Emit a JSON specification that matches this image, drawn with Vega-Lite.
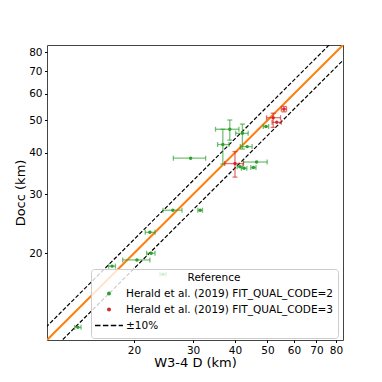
{
  "$schema": "https://vega.github.io/schema/vega-lite/v6.json",
  "width": 296,
  "height": 295,
  "autosize": {"type": "none"},
  "padding": {"left": 47, "top": 45, "right": 39, "bottom": 42},
  "background": "white",
  "config": {
    "font": "DejaVu Sans",
    "view": {"stroke": "#444444", "strokeWidth": 1},
    "axis": {"grid": false, "domain": false, "tickColor": "#000000", "tickSize": 2.5, "labelPadding": 2.5, "labelFontSize": 10.5, "labelColor": "#000000", "titleFontSize": 13, "titleFontWeight": "normal", "titleColor": "#000000"}
  },
  "datasets": {
    "pts": [
      {"s": "2", "x": 29.5, "y": 38.5, "xlo": 26.2, "xhi": 32.7, "ylo": null, "yhi": null},
      {"s": "2", "x": 38.6, "y": 47.0, "xlo": 35.0, "xhi": 41.1, "ylo": 43.6, "yhi": 50.1},
      {"s": "2", "x": 36.8, "y": 42.3, "xlo": 35.5, "xhi": 38.4, "ylo": 37.0, "yhi": 47.0},
      {"s": "2", "x": 42.1, "y": 45.7, "xlo": 40.2, "xhi": 43.8, "ylo": 41.0, "yhi": 48.7},
      {"s": "2", "x": 43.5, "y": 41.7, "xlo": 41.5, "xhi": 45.0, "ylo": null, "yhi": null},
      {"s": "2", "x": 46.4, "y": 37.5, "xlo": 42.4, "xhi": 49.9, "ylo": null, "yhi": null},
      {"s": "2", "x": 41.4, "y": 36.3, "xlo": 40.6, "xhi": 42.2, "ylo": null, "yhi": null},
      {"s": "2", "x": 42.6, "y": 35.9, "xlo": 41.8, "xhi": 43.4, "ylo": null, "yhi": null},
      {"s": "2", "x": 45.4, "y": 36.1, "xlo": 44.6, "xhi": 46.2, "ylo": null, "yhi": null},
      {"s": "2", "x": 49.5, "y": 47.9, "xlo": 48.6, "xhi": 50.4, "ylo": null, "yhi": null},
      {"s": "2", "x": 26.1, "y": 26.9, "xlo": 24.4, "xhi": 27.8, "ylo": null, "yhi": null},
      {"s": "2", "x": 31.5, "y": 26.9, "xlo": 31.0, "xhi": 32.0, "ylo": null, "yhi": null},
      {"s": "2", "x": 22.3, "y": 23.1, "xlo": 21.6, "xhi": 23.1, "ylo": null, "yhi": null},
      {"s": "2", "x": 22.5, "y": 20.0, "xlo": 21.8, "xhi": 23.1, "ylo": null, "yhi": null},
      {"s": "2", "x": 20.4, "y": 19.1, "xlo": 18.5, "xhi": 22.3, "ylo": null, "yhi": null},
      {"s": "2", "x": 17.2, "y": 18.3, "xlo": 16.8, "xhi": 17.6, "ylo": null, "yhi": null},
      {"s": "2", "x": 24.4, "y": 17.3, "xlo": 23.9, "xhi": 24.9, "ylo": null, "yhi": null},
      {"s": "2", "x": 13.6, "y": 12.0, "xlo": 13.3, "xhi": 13.9, "ylo": null, "yhi": null},
      {"s": "3", "x": 40.0, "y": 37.1, "xlo": 37.3, "xhi": 42.4, "ylo": 33.8, "yhi": 40.3},
      {"s": "3", "x": 52.0, "y": 50.9, "xlo": 49.7, "xhi": 54.7, "ylo": 47.6, "yhi": 52.5},
      {"s": "3", "x": 53.3, "y": 49.3, "xlo": 51.6, "xhi": 55.0, "ylo": null, "yhi": null},
      {"s": "3", "x": 56.0, "y": 54.0, "xlo": 55.0, "xhi": 57.0, "ylo": 53.0, "yhi": 55.0}
    ],
    "lines": [
      {"line": "1:1", "x": 10, "y": 10},
      {"line": "1:1", "x": 90, "y": 90},
      {"line": "+10%", "x": 10, "y": 11},
      {"line": "+10%", "x": 90, "y": 99},
      {"line": "-10%", "x": 10, "y": 9},
      {"line": "-10%", "x": 90, "y": 81}
    ],
    "leg": [
      {"ref": "Herald et al. (2019) FIT_QUAL_CODE=2", "x": 5, "y": 5},
      {"ref": "Herald et al. (2019) FIT_QUAL_CODE=3", "x": 5, "y": 5},
      {"ref": "±10%", "x": 5, "y": 5}
    ]
  },
  "layer": [
    {
      "data": {"name": "lines"},
      "transform": [{"filter": "datum.line === '1:1'"}],
      "mark": {"type": "line", "color": "#ff7f0e", "strokeWidth": 2, "clip": true},
      "encoding": {
        "x": {"field": "x", "type": "quantitative", "title": "W3-4 D (km)", "scale": {"type": "log", "domain": [11, 84], "nice": false, "zero": false}, "axis": {"values": [20, 30, 40, 50, 60, 70, 80], "format": "d", "titleY": 22, "titleBaseline": "middle"}},
        "y": {"field": "y", "type": "quantitative", "title": "Docc (km)", "scale": {"type": "log", "domain": [11, 84], "nice": false, "zero": false}, "axis": {"values": [20, 30, 40, 50, 60, 70, 80], "format": "d", "titleX": -27, "titleBaseline": "middle"}}
      }
    },
    {
      "data": {"name": "lines"},
      "transform": [{"filter": "datum.line !== '1:1'"}],
      "mark": {"type": "line", "color": "#000000", "strokeWidth": 1.2, "strokeDash": [4, 2], "clip": true},
      "encoding": {
        "x": {"field": "x", "type": "quantitative", "title": "W3-4 D (km)", "scale": {"type": "log", "domain": [11, 84], "nice": false, "zero": false}, "axis": {"values": [20, 30, 40, 50, 60, 70, 80], "format": "d", "titleY": 22, "titleBaseline": "middle"}},
        "y": {"field": "y", "type": "quantitative", "title": "Docc (km)", "scale": {"type": "log", "domain": [11, 84], "nice": false, "zero": false}, "axis": {"values": [20, 30, 40, 50, 60, 70, 80], "format": "d", "titleX": -27, "titleBaseline": "middle"}},
        "detail": {"field": "line", "type": "nominal"}
      }
    },
    {
      "data": {"name": "pts"},
      "transform": [{"filter": "datum.s === '2'"}],
      "mark": {"type": "errorbar", "orient": "horizontal", "color": "#2ca02c", "opacity": 0.65, "thickness": 1.3, "ticks": {"size": 5, "thickness": 1.3}},
      "encoding": {
        "x": {"field": "xlo", "type": "quantitative", "title": "W3-4 D (km)", "scale": {"type": "log", "domain": [11, 84], "nice": false, "zero": false}, "axis": {"values": [20, 30, 40, 50, 60, 70, 80], "format": "d", "titleY": 22, "titleBaseline": "middle"}},
        "x2": {"field": "xhi"},
        "y": {"field": "y", "type": "quantitative", "title": "Docc (km)", "scale": {"type": "log", "domain": [11, 84], "nice": false, "zero": false}, "axis": {"values": [20, 30, 40, 50, 60, 70, 80], "format": "d", "titleX": -27, "titleBaseline": "middle"}}
      }
    },
    {
      "data": {"name": "pts"},
      "transform": [{"filter": "datum.s === '2' && datum.ylo != null"}],
      "mark": {"type": "errorbar", "orient": "vertical", "color": "#2ca02c", "opacity": 0.65, "thickness": 1.3, "ticks": {"size": 5, "thickness": 1.3}},
      "encoding": {
        "x": {"field": "x", "type": "quantitative", "title": "W3-4 D (km)", "scale": {"type": "log", "domain": [11, 84], "nice": false, "zero": false}, "axis": {"values": [20, 30, 40, 50, 60, 70, 80], "format": "d", "titleY": 22, "titleBaseline": "middle"}},
        "y": {"field": "ylo", "type": "quantitative", "title": "Docc (km)", "scale": {"type": "log", "domain": [11, 84], "nice": false, "zero": false}, "axis": {"values": [20, 30, 40, 50, 60, 70, 80], "format": "d", "titleX": -27, "titleBaseline": "middle"}},
        "y2": {"field": "yhi"}
      }
    },
    {
      "data": {"name": "pts"},
      "transform": [{"filter": "datum.s === '3'"}],
      "mark": {"type": "errorbar", "orient": "horizontal", "color": "#d62728", "opacity": 0.65, "thickness": 1.3, "ticks": {"size": 5, "thickness": 1.3}},
      "encoding": {
        "x": {"field": "xlo", "type": "quantitative", "title": "W3-4 D (km)", "scale": {"type": "log", "domain": [11, 84], "nice": false, "zero": false}, "axis": {"values": [20, 30, 40, 50, 60, 70, 80], "format": "d", "titleY": 22, "titleBaseline": "middle"}},
        "x2": {"field": "xhi"},
        "y": {"field": "y", "type": "quantitative", "title": "Docc (km)", "scale": {"type": "log", "domain": [11, 84], "nice": false, "zero": false}, "axis": {"values": [20, 30, 40, 50, 60, 70, 80], "format": "d", "titleX": -27, "titleBaseline": "middle"}}
      }
    },
    {
      "data": {"name": "pts"},
      "transform": [{"filter": "datum.s === '3' && datum.ylo != null"}],
      "mark": {"type": "errorbar", "orient": "vertical", "color": "#d62728", "opacity": 0.65, "thickness": 1.3, "ticks": {"size": 5, "thickness": 1.3}},
      "encoding": {
        "x": {"field": "x", "type": "quantitative", "title": "W3-4 D (km)", "scale": {"type": "log", "domain": [11, 84], "nice": false, "zero": false}, "axis": {"values": [20, 30, 40, 50, 60, 70, 80], "format": "d", "titleY": 22, "titleBaseline": "middle"}},
        "y": {"field": "ylo", "type": "quantitative", "title": "Docc (km)", "scale": {"type": "log", "domain": [11, 84], "nice": false, "zero": false}, "axis": {"values": [20, 30, 40, 50, 60, 70, 80], "format": "d", "titleX": -27, "titleBaseline": "middle"}},
        "y2": {"field": "yhi"}
      }
    },
    {
      "data": {"name": "pts"},
      "mark": {"type": "point", "filled": true, "opacity": 1, "size": 12, "strokeWidth": 0},
      "encoding": {
        "x": {"field": "x", "type": "quantitative", "title": "W3-4 D (km)", "scale": {"type": "log", "domain": [11, 84], "nice": false, "zero": false}, "axis": {"values": [20, 30, 40, 50, 60, 70, 80], "format": "d", "titleY": 22, "titleBaseline": "middle"}},
        "y": {"field": "y", "type": "quantitative", "title": "Docc (km)", "scale": {"type": "log", "domain": [11, 84], "nice": false, "zero": false}, "axis": {"values": [20, 30, 40, 50, 60, 70, 80], "format": "d", "titleX": -27, "titleBaseline": "middle"}},
        "fill": {"field": "s", "type": "nominal", "scale": {"domain": ["2", "3"], "range": ["#2ca02c", "#d62728"]}, "legend": null}
      }
    },
    {
      "data": {"name": "leg"},
      "mark": {"type": "point", "filled": true, "opacity": 1, "clip": true, "strokeWidth": 0},
      "encoding": {
        "x": {"field": "x", "type": "quantitative", "title": "W3-4 D (km)", "scale": {"type": "log", "domain": [11, 84], "nice": false, "zero": false}, "axis": {"values": [20, 30, 40, 50, 60, 70, 80], "format": "d", "titleY": 22, "titleBaseline": "middle"}},
        "y": {"field": "y", "type": "quantitative", "title": "Docc (km)", "scale": {"type": "log", "domain": [11, 84], "nice": false, "zero": false}, "axis": {"values": [20, 30, 40, 50, 60, 70, 80], "format": "d", "titleX": -27, "titleBaseline": "middle"}},
        "color": {
          "field": "ref", "type": "nominal",
          "scale": {"domain": ["Herald et al. (2019) FIT_QUAL_CODE=2", "Herald et al. (2019) FIT_QUAL_CODE=3", "±10%"], "range": ["#2ca02c", "#d62728", "#000000"]},
          "legend": {"title": "Reference", "orient": "none", "legendX": 44, "legendY": 224, "titleAnchor": "middle", "titleAlign": "center", "titleFontSize": 10.5, "titleFontWeight": "normal", "titleColor": "#000000", "titlePadding": 2, "labelFontSize": 10.5, "labelColor": "#000000", "labelOffset": 3, "labelLimit": 400, "padding": 4, "fillColor": "rgba(255,255,255,0.8)", "strokeColor": "#cccccc", "cornerRadius": 3, "symbolSize": 784, "clipHeight": 16, "rowPadding": 0, "symbolStrokeWidth": 0}
        },
        "shape": {
          "field": "ref", "type": "nominal",
          "scale": {"domain": ["Herald et al. (2019) FIT_QUAL_CODE=2", "Herald et al. (2019) FIT_QUAL_CODE=3", "±10%"], "range": ["M0.14,0A0.14,0.14,0,1,1,-0.14,0A0.14,0.14,0,1,1,0.14,0Z", "M0.14,0A0.14,0.14,0,1,1,-0.14,0A0.14,0.14,0,1,1,0.14,0Z", "M-1,-0.05H-0.607V0.05H-1Z M-0.436,-0.05H-0.043V0.05H-0.436Z M0.128,-0.05H0.521V0.05H0.128Z M0.692,-0.05H1V0.05H0.692Z"]},
          "legend": {"title": "Reference", "orient": "none", "legendX": 44, "legendY": 224, "titleAnchor": "middle", "titleAlign": "center", "titleFontSize": 10.5, "titleFontWeight": "normal", "titleColor": "#000000", "titlePadding": 2, "labelFontSize": 10.5, "labelColor": "#000000", "labelOffset": 3, "labelLimit": 400, "padding": 4, "fillColor": "rgba(255,255,255,0.8)", "strokeColor": "#cccccc", "cornerRadius": 3, "symbolSize": 784, "clipHeight": 16, "rowPadding": 0, "symbolStrokeWidth": 0}
        }
      }
    }
  ]
}
